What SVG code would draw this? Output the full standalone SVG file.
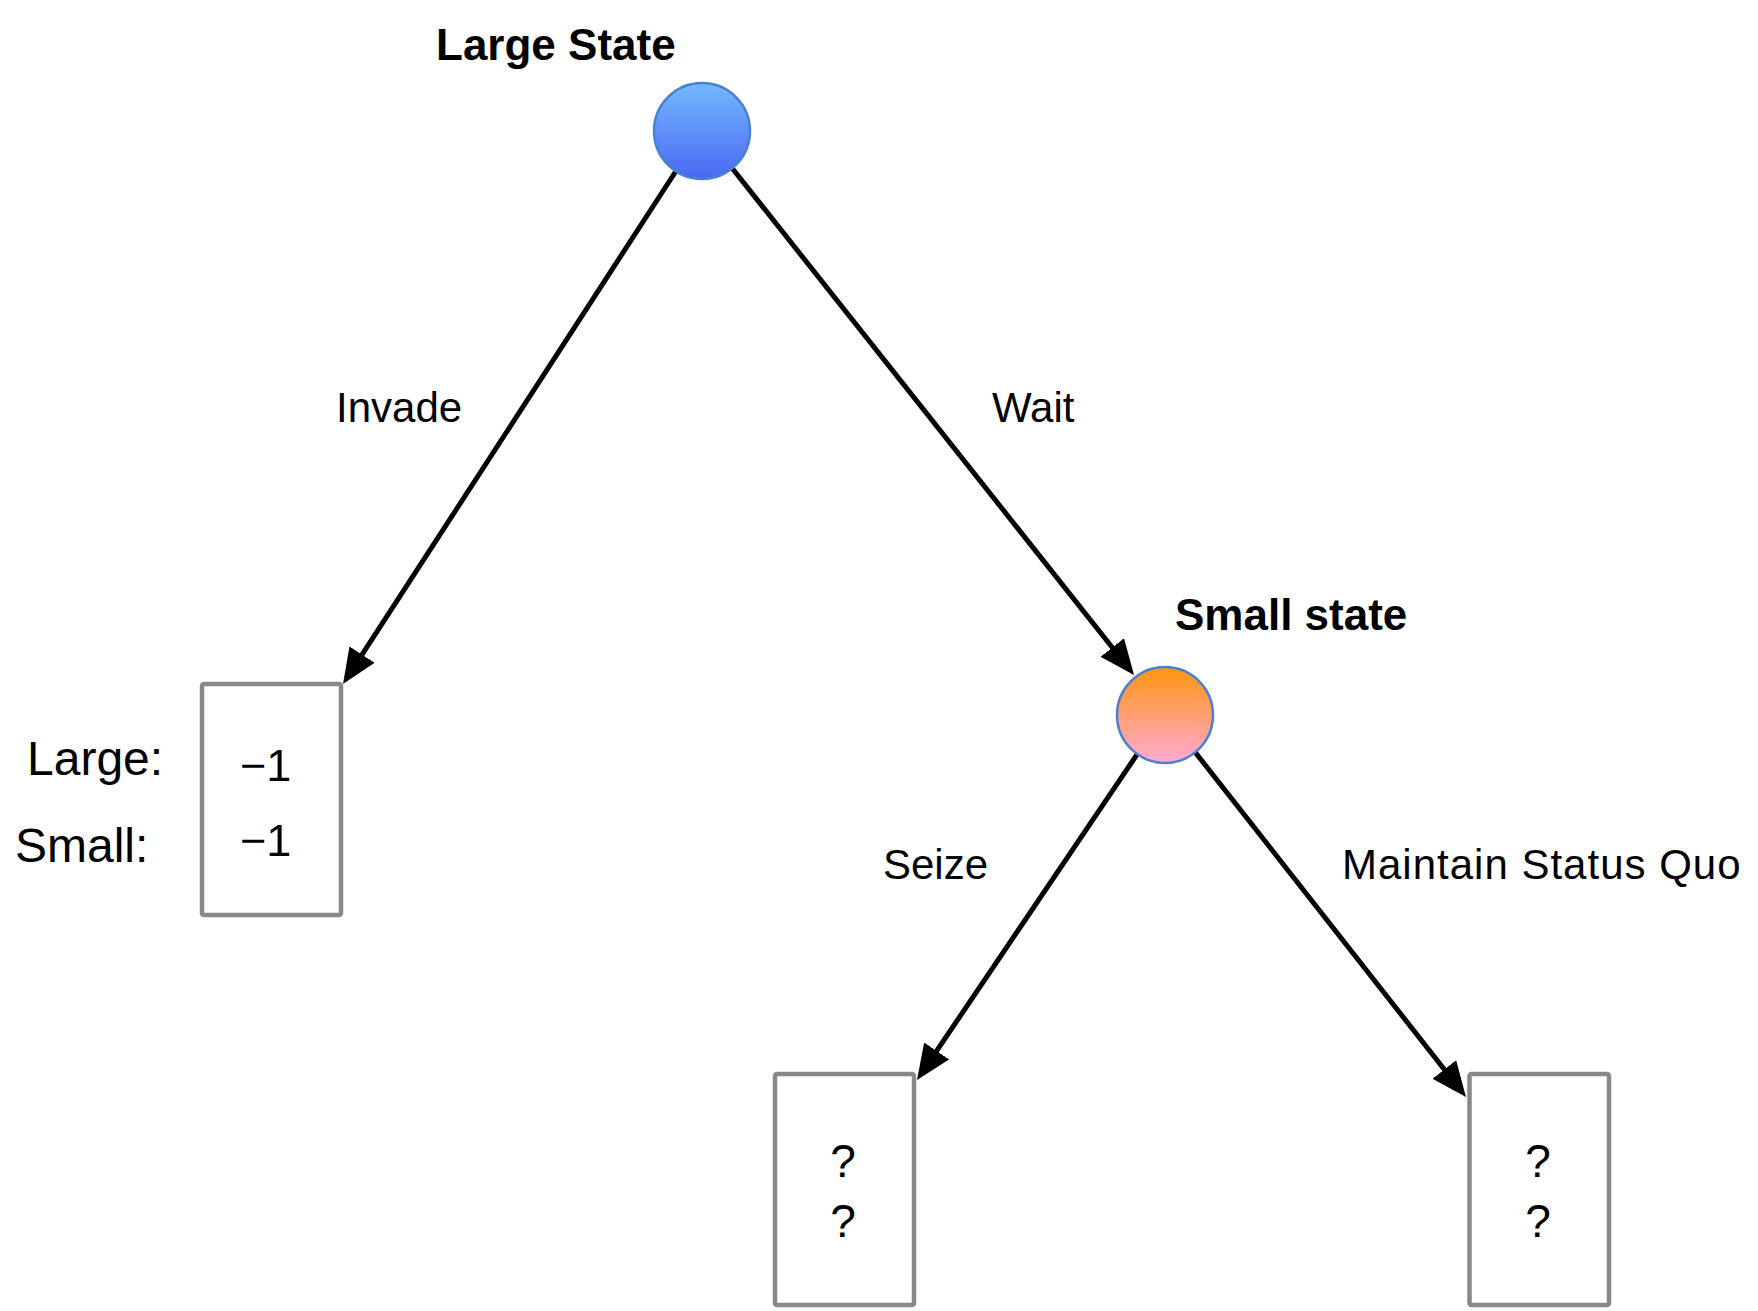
<svg xmlns="http://www.w3.org/2000/svg" width="1758" height="1311" viewBox="0 0 1758 1311">
<style>
text{font-family:"Liberation Sans",Arial,Helvetica,sans-serif;fill:#000}
.title{font-weight:bold;font-size:44px}
.lbl{font-size:42px}
.side{font-size:48px}
.val{font-size:45px}
.q{font-size:46px;text-anchor:middle}
.box{fill:#fff;stroke:#888;stroke-width:4.5}
.node{stroke:#4a80d0;stroke-width:2.5}
.edge{stroke:#000;stroke-width:5;fill:none;marker-end:url(#arrow)}
</style>
<defs>
<linearGradient id="gBlue" x1="0" y1="0" x2="0" y2="1">
<stop offset="0" stop-color="#74b8ff"/>
<stop offset="1" stop-color="#4a68f2"/>
</linearGradient>
<linearGradient id="gOrange" x1="0" y1="0" x2="0" y2="1">
<stop offset="0" stop-color="#ff9410"/>
<stop offset="1" stop-color="#ffaad4"/>
</linearGradient>
<marker id="arrow" markerUnits="userSpaceOnUse" markerWidth="36" markerHeight="32" viewBox="0 0 36 32" refX="15" refY="16" orient="auto">
<path d="M0,1 L35,16 L0,31 z" fill="#000"/>
</marker>
</defs>
<rect width="1758" height="1311" fill="#fff"/>
<g id="connectors">
<line class="edge" x1="676" y1="171" x2="353.9" y2="667.2"/>
<line class="edge" x1="732" y1="168" x2="1121.6" y2="659.3"/>
<line class="edge" x1="1138" y1="753" x2="928.2" y2="1063.4"/>
<line class="edge" x1="1195" y1="752" x2="1453.6" y2="1081.3"/>
<text class="lbl" x="336" y="422">Invade</text>
<text class="lbl" x="992" y="422">Wait</text>
<text class="lbl" x="883" y="879">Seize</text>
<text class="lbl" x="1342" y="879" letter-spacing="1">Maintain Status Quo</text>
</g>
<g id="large-state">
<circle class="node" cx="702" cy="131" r="48" fill="url(#gBlue)"/>
<text class="title" x="436" y="60">Large State</text>
</g>
<g id="small-state">
<circle class="node" cx="1165" cy="715" r="48" fill="url(#gOrange)"/>
<text class="title" x="1175" y="630">Small state</text>
</g>
<g id="outcome-invade">
<rect class="box" x="202" y="684" width="139" height="231" rx="2"/>
<text class="side" x="27" y="775">Large:</text>
<text class="side" x="15" y="862">Small:</text>
<text class="val" x="240" y="781">−1</text>
<text class="val" x="240" y="856">−1</text>
</g>
<g id="outcome-seize">
<rect class="box" x="775" y="1074" width="139" height="231" rx="2"/>
<text class="q" x="843" y="1177">?</text>
<text class="q" x="843" y="1237">?</text>
</g>
<g id="outcome-status-quo">
<rect class="box" x="1469.5" y="1074" width="139.5" height="231" rx="2"/>
<text class="q" x="1538" y="1177">?</text>
<text class="q" x="1538" y="1237">?</text>
</g>
</svg>
